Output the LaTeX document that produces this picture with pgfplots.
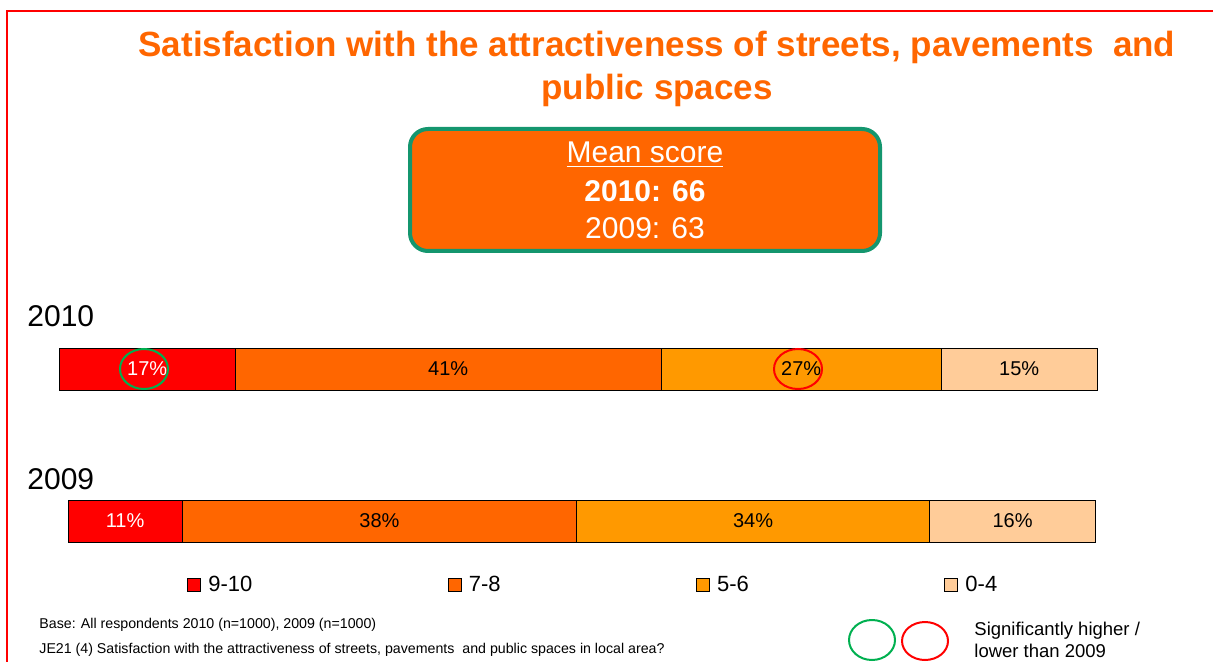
\documentclass[border=0pt]{standalone}
\usepackage{fontspec}
\setmainfont{Liberation Sans}
\usepackage{pgfplots}
\usepackage{pgfplotstable}
\pgfplotsset{compat=1.18}

\definecolor{cTop}{HTML}{FF0000}
\definecolor{cHigh}{HTML}{FF6600}
\definecolor{cMid}{HTML}{FF9900}
\definecolor{cLow}{HTML}{FFCC99}
\definecolor{boxedge}{RGB}{20,150,110}
\definecolor{sigGreen}{HTML}{00B050}

% share of respondents per score band
\pgfplotstableread{
y a b c d
0 17 41 27 15
}\yearten
\pgfplotstableread{
y a b c d
0 11 38 34 16
}\yearnine

\pgfplotsset{
  barrow/.style={
    xbar stacked, hide axis, scale only axis,
    width=519pt, height=21pt,
    xmin=0, xmax=100, ymin=-0.5, ymax=0.5,
    bar width=21pt, clip=false,
    point meta=explicit,
    /pgf/number format/assume math mode=true,
    nodes near coords={\pgfmathprintnumber{\pgfplotspointmeta}\%},
    every node near coord/.append style={anchor=center,
      font=\fontsize{10}{12}\selectfont, black},
  },
  seg/.style={draw=black, line width=0.5pt, fill=#1,
    legend image code/.code={\draw[##1] (0pt,-3.25pt) rectangle (6.5pt,3.25pt);
      \path (8pt,0pt);}},
}

\begin{document}
\begin{tikzpicture}
\begin{scope}[x=0.5pt, y=-0.5pt]
  \useasboundingbox (0,0) rectangle (1213,662);
  \draw[red, line width=0.75pt] (7,662) -- (7,11) -- (1213,11);
  \node[anchor=base, inner sep=0, text=cHigh, font=\bfseries\fontsize{17.5}{21}\selectfont]
    at (657,57) {Satisfaction with the attractiveness of streets, pavements~ and};
  \node[anchor=base, inner sep=0, text=cHigh, font=\bfseries\fontsize{17.5}{21}\selectfont]
    at (657,100) {public spaces};
  \draw[boxedge, line width=2pt, fill=cHigh, rounded corners=9pt] (410,129) rectangle (880,251);
  \node[anchor=base, inner sep=0, text=white, font=\fontsize{15}{18}\selectfont] at (645,163) {\underline{Mean score}};
  \node[anchor=base, inner sep=0, text=white, font=\bfseries\fontsize{15}{18}\selectfont] at (645,202) {2010: 66};
  \node[anchor=base, inner sep=0, text=white, font=\fontsize{15}{18}\selectfont] at (645,239) {2009: 63};
  \node[anchor=base west, inner sep=0, font=\fontsize{15}{18}\selectfont] at (27,326) {2010};
  \node[anchor=base west, inner sep=0, font=\fontsize{15}{18}\selectfont] at (27,489) {2009};
  \node[anchor=base west, inner sep=0, font=\fontsize{7.1}{8.5}\selectfont] at (39,628)
    {Base: All respondents 2010 (n=1000), 2009 (n=1000)};
  \node[anchor=base west, inner sep=0, font=\fontsize{7.1}{8.5}\selectfont] at (39,653)
    {JE21 (4) Satisfaction with the attractiveness of streets, pavements~ and public spaces in local area?};
  \draw[sigGreen, line width=1pt] (872,640) ellipse [x radius=11.5pt, y radius=10pt];
  \draw[cTop, line width=1pt] (925,641) ellipse [x radius=11.5pt, y radius=9.5pt];
  \node[anchor=base west, inner sep=0, font=\fontsize{9.25}{11}\selectfont] at (974,635) {Significantly higher /};
  \node[anchor=base west, inner sep=0, font=\fontsize{9.25}{11}\selectfont] at (974,657) {lower than 2009};
\end{scope}

\begin{axis}[barrow, at={(29.5pt,-174pt)}, anchor=north west]
  \addplot[seg=cTop, every node near coord/.append style={white}] table[x=a, y=y, meta=a] {\yearten};
  \addplot[seg=cHigh] table[x=b, y=y, meta=b] {\yearten};
  \addplot[seg=cMid] table[x=c, y=y, meta=c] {\yearten};
  \addplot[seg=cLow] table[x=d, y=y, meta=d] {\yearten};
\end{axis}

\begin{axis}[barrow, at={(34pt,-250pt)}, anchor=north west,
  legend columns=4,
  legend style={at={(axis description cs:0.1146,-1.024)}, anchor=west,
    draw=none, fill=none, inner sep=0pt, font=\fontsize{11}{13}\selectfont,
    /tikz/every even column/.append style={column sep=95.75pt}},
  legend entries={9-10, 7-8, 5-6, 0-4}]
  \addplot[seg=cTop, every node near coord/.append style={white}] table[x=a, y=y, meta=a] {\yearnine};
  \addplot[seg=cHigh] table[x=b, y=y, meta=b] {\yearnine};
  \addplot[seg=cMid] table[x=c, y=y, meta=c] {\yearnine};
  \addplot[seg=cLow] table[x=d, y=y, meta=d] {\yearnine};
\end{axis}

% significance markers on the 2010 bar
\begin{scope}[x=0.5pt, y=-0.5pt]
  \draw[sigGreen, line width=1pt] (144,369) ellipse [x radius=12pt, y radius=10pt];
  \draw[cTop, line width=1pt] (798,369) ellipse [x radius=12pt, y radius=10pt];
\end{scope}
\end{tikzpicture}
\end{document}
